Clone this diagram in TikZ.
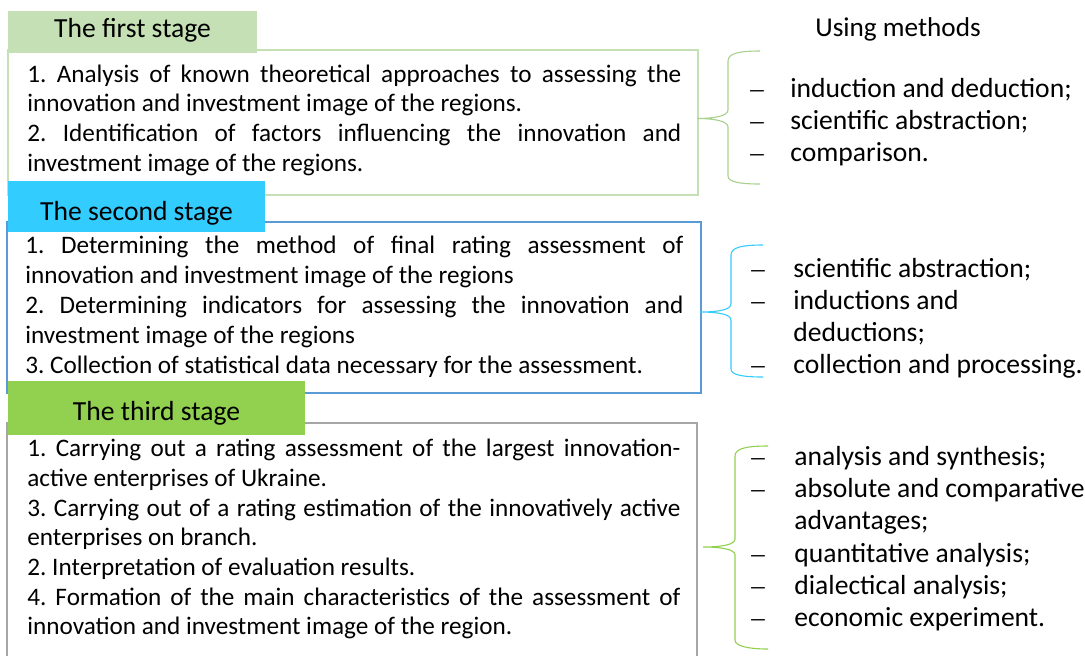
\documentclass[tikz,border=0pt]{standalone}
\usepackage{fontspec}
\setmainfont{Carlito}
\newfontfamily\dashfont{Liberation Serif}
\definecolor{stageone}{HTML}{C5E0B4}
\definecolor{braceone}{HTML}{A9D18E}
\definecolor{stagetwo}{HTML}{33CCFF}
\definecolor{frametwo}{HTML}{5B9BD5}
\definecolor{stagethree}{HTML}{92D050}
\definecolor{framethree}{HTML}{A6A6A6}
\newcommand{\fullline}[1]{\makebox[\linewidth][s]{\spaceskip=0pt\xspaceskip=0pt\relax#1}}
\frenchspacing
\begin{document}
\begin{tikzpicture}[x=0.5pt,y=-0.5pt,
  hdr/.style={inner sep=0pt,font=\fontsize{13.8}{16}\selectfont},
  bodytext/.style={inner sep=0pt,anchor=base west,align=justify,font=\fontsize{12.6}{14.85}\selectfont},
  item/.style={inner sep=0pt,anchor=base west,font=\fontsize{13.8}{16}\selectfont},
  marker/.style={inner sep=0pt,anchor=base west,font=\dashfont\fontsize{13.4}{16}\selectfont},
  brace/.style={line width=0.55pt}]
\useasboundingbox (0,0) rectangle (1085,655);
\clip (0,0) rectangle (1085,655);
\fill[white] (0,0) rectangle (1085,655);
% frames
\draw[stageone,line width=0.9pt] (8,50) rectangle (698,195);
\draw[frametwo,line width=0.9pt] (7,222) rectangle (701,393);
\draw[framethree,line width=0.9pt] (7,680) -- (7,423) -- (697,423) -- (697,680);
% stage headers
\node[hdr,fill=stageone,minimum width=124.5pt,minimum height=21pt,text height=8.8pt,text depth=3.5pt] (h1) at (132.5,32) {The first stage};
\node[hdr,fill=stagetwo,minimum width=128.5pt,minimum height=25.5pt,text height=16pt,text depth=2.5pt] (h2) at (136.5,206.5) {The second stage};
\node[hdr,fill=stagethree,minimum width=148.5pt,minimum height=27pt,text height=15pt,text depth=2.3pt] (h3) at (156.5,408) {The third stage};
% stage contents
\node[bodytext,text width=327pt] (t1) at (27,82) {%
\fullline{1. Analysis of known theoretical approaches to assessing the}\\
innovation and investment image of the regions.\\
\fullline{2. Identification of factors influencing the innovation and}\\
investment image of the regions.};
\node[bodytext,text width=329pt,font=\fontsize{12.6}{15}\selectfont] (t2) at (25,253.3) {%
\fullline{1. Determining the method of final rating assessment of}\\
innovation and investment image of the regions\\
\fullline{2. Determining indicators for assessing the innovation and}\\
investment image of the regions\\
3. Collection of statistical data necessary for the assessment.};
\node[bodytext,text width=326.5pt] (t3) at (27,456.7) {%
\fullline{1. Carrying out a rating assessment of the largest innovation-}\\
active enterprises of Ukraine.\\
\fullline{3. Carrying out of a rating estimation of the innovatively active}\\
enterprises on branch.\\
2. Interpretation of evaluation results.\\
\fullline{4. Formation of the main characteristics of the assessment of}\\
innovation and investment image of the region.};
% methods
\node[item,anchor=base,font=\fontsize{13.6}{16}\selectfont] (um) at (898,36.7) {Using methods};
\draw[braceone,brace] (760,51) .. controls (740,51) and (728,53) .. (728,61) -- (728,110)
  .. controls (728,116) and (714,118.5) .. (697,118.5)
  .. controls (714,118.5) and (728,121) .. (728,127) -- (728,176)
  .. controls (728,182) and (740,184) .. (760,184);
\draw[stagetwo,brace] (763,245) .. controls (743,245) and (731,247) .. (731,255) -- (731,304)
  .. controls (731,310) and (717,312) .. (700,312)
  .. controls (717,312) and (731,314) .. (731,320) -- (731,369)
  .. controls (731,375) and (743,377) .. (763,377);
\draw[stagethree,brace] (768,446) .. controls (748,446) and (735,448) .. (735,456) -- (735,539)
  .. controls (735,545) and (720,547) .. (703,547)
  .. controls (720,547) and (735,549) .. (735,555) -- (735,640)
  .. controls (735,646) and (748,649) .. (768,649);
\foreach \y/\t [count=\i] in {97.5/induction and deduction;, 129.7/scientific abstraction;, 161.9/comparison.}
  \node[item] (m1-\i) at (790,\y) {\t};
\foreach \y in {97.5,129.7,161.9}
  \node[marker] at (750,\y) {–};
\foreach \y/\t [count=\i] in {277/scientific abstraction;, 309.2/inductions and, 341.4/deductions;, 373.6/collection and processing.}
  \node[item] (m2-\i) at (793,\y) {\t};
\foreach \y in {277,309.2,373.6}
  \node[marker] at (751,\y) {–};
\foreach \y/\t [count=\i] in {465.5/analysis and synthesis;, 497.7/absolute and comparative, 529.9/advantages;, 562.1/quantitative analysis;, 594.3/dialectical analysis;, 626.5/economic experiment.}
  \node[item] (m3-\i) at (794,\y) {\t};
\foreach \y in {465.5,497.7,562.1,594.3,626.5}
  \node[marker] at (751,\y) {–};
\end{tikzpicture}
\end{document}
